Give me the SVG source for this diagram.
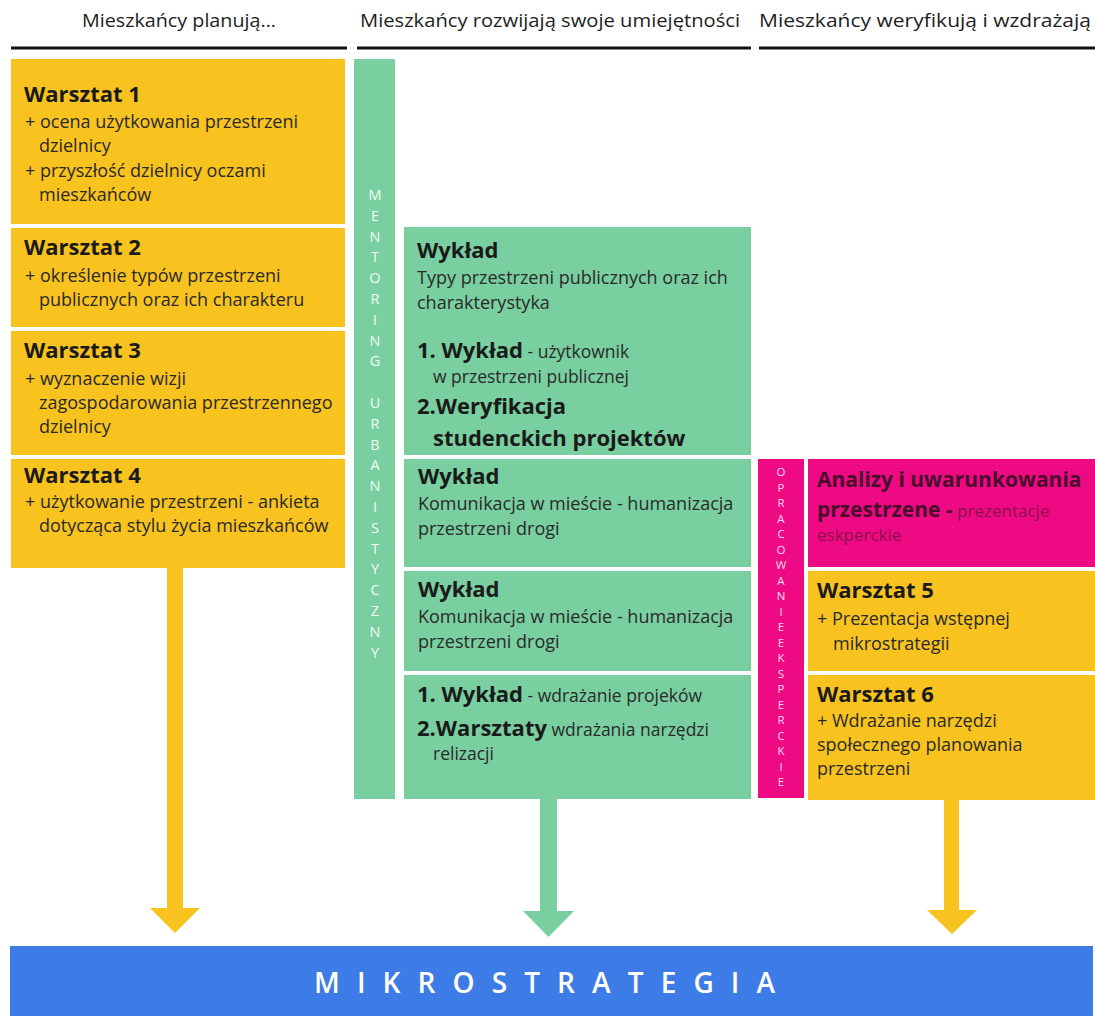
<svg xmlns="http://www.w3.org/2000/svg" width="1095" height="1016" viewBox="0 0 1095 1016">
<defs>
<style>
text{font-family:"Open Sans","Noto Sans","DejaVu Sans",sans-serif;}
.hd{font-size:18px;fill:#1e1e1e;}
.t{font-size:22px;font-weight:700;fill:#1a1a1a;}
.b{font-size:18px;fill:#2a2a2a;}
.s{font-size:17.5px;fill:#2a2a2a;font-weight:400;}
.y{fill:#F8C21F;}
.g{fill:#79CF9F;}
.p{fill:#EE0A82;}
.vm{font-size:14.5px;fill:#f1fbf5;text-anchor:middle;}
.vp{font-size:11.5px;fill:#ffdcee;text-anchor:middle;}
.hl{stroke:#111;stroke-width:3;}
</style>
</defs>
<rect width="1095" height="1016" fill="#fff"/>
<g id="headers">
<text class="hd" x="82" y="27" textLength="194" lengthAdjust="spacingAndGlyphs">Mieszkańcy planują...</text>
<text class="hd" x="360" y="27" textLength="380" lengthAdjust="spacingAndGlyphs">Mieszkańcy rozwijają swoje umiejętności</text>
<text class="hd" x="759" y="27" textLength="332" lengthAdjust="spacingAndGlyphs">Mieszkańcy weryfikują i wzdrażają</text>
<line class="hl" x1="11" y1="48" x2="347" y2="48"/>
<line class="hl" x1="357" y1="48" x2="751" y2="48"/>
<line class="hl" x1="759" y1="48" x2="1095" y2="48"/>
</g>
<g id="connectors">
<rect class="y" x="167" y="568" width="16" height="341"/>
<polygon class="y" points="150,908 200,908 175,933"/>
<rect class="g" x="540" y="799" width="17" height="113"/>
<polygon class="g" points="523,911 574,911 548.5,937"/>
<rect class="y" x="944" y="800" width="15" height="111"/>
<polygon class="y" points="927,910 977,910 952,934"/>
</g>
<g id="warsztat1">
<rect class="y" x="11" y="59" width="334" height="165"/>
<text class="t" x="24" y="102">Warsztat 1</text>
<text class="b" x="25" y="128">+ ocena użytkowania przestrzeni</text>
<text class="b" x="39" y="152">dzielnicy</text>
<text class="b" x="25" y="177">+ przyszłość dzielnicy oczami</text>
<text class="b" x="39" y="201">mieszkańców</text>
</g>
<g id="warsztat2">
<rect class="y" x="11" y="228" width="334" height="99"/>
<text class="t" x="24" y="255">Warsztat 2</text>
<text class="b" x="25" y="282">+ określenie typów przestrzeni</text>
<text class="b" x="39" y="306">publicznych oraz ich charakteru</text>
</g>
<g id="warsztat3">
<rect class="y" x="11" y="331" width="334" height="124"/>
<text class="t" x="24" y="358">Warsztat 3</text>
<text class="b" x="25" y="385">+ wyznaczenie wizji</text>
<text class="b" x="39" y="409">zagospodarowania przestrzennego</text>
<text class="b" x="39" y="433">dzielnicy</text>
</g>
<g id="warsztat4">
<rect class="y" x="11" y="459" width="334" height="109"/>
<text class="t" x="24" y="483">Warsztat 4</text>
<text class="b" x="25" y="508">+ użytkowanie przestrzeni - ankieta</text>
<text class="b" x="39" y="532">dotycząca stylu życia mieszkańców</text>
</g>
<g id="mentoring">
<rect class="g" x="354" y="59" width="41" height="740"/>
<text class="vm"><tspan x="375" y="200">M</tspan><tspan x="375" y="220.8">E</tspan><tspan x="375" y="241.6">N</tspan><tspan x="375" y="262.4">T</tspan><tspan x="375" y="283.2">O</tspan><tspan x="375" y="304">R</tspan><tspan x="375" y="324.8">I</tspan><tspan x="375" y="345.6">N</tspan><tspan x="375" y="366.4">G</tspan><tspan x="375" y="408">U</tspan><tspan x="375" y="428.8">R</tspan><tspan x="375" y="449.6">B</tspan><tspan x="375" y="470.4">A</tspan><tspan x="375" y="491.2">N</tspan><tspan x="375" y="512">I</tspan><tspan x="375" y="532.8">S</tspan><tspan x="375" y="553.6">T</tspan><tspan x="375" y="574.4">Y</tspan><tspan x="375" y="595.2">C</tspan><tspan x="375" y="616">Z</tspan><tspan x="375" y="636.8">N</tspan><tspan x="375" y="657.6">Y</tspan></text>
</g>
<g id="wyklad1">
<rect class="g" x="404" y="227" width="347" height="228"/>
<text class="t" x="417" y="258">Wykład</text>
<text class="b" x="417" y="284">Typy przestrzeni publicznych oraz ich</text>
<text class="b" x="417" y="309">charakterystyka</text>
<text class="t" x="417" y="358">1. Wykład<tspan class="s"> - użytkownik</tspan></text>
<text class="s" x="433" y="383">w przestrzeni publicznej</text>
<text class="t" x="417" y="414">2.Weryfikacja</text>
<text class="t" x="433" y="446">studenckich projektów</text>
</g>
<g id="wyklad2">
<rect class="g" x="404" y="459" width="347" height="108"/>
<text class="t" x="418" y="484">Wykład</text>
<text class="b" x="418" y="510">Komunikacja w mieście - humanizacja</text>
<text class="b" x="418" y="535">przestrzeni drogi</text>
</g>
<g id="wyklad3">
<rect class="g" x="404" y="571" width="347" height="100"/>
<text class="t" x="418" y="597">Wykład</text>
<text class="b" x="418" y="623">Komunikacja w mieście - humanizacja</text>
<text class="b" x="418" y="648">przestrzeni drogi</text>
</g>
<g id="wyklad4">
<rect class="g" x="404" y="675" width="347" height="124"/>
<text class="t" x="417" y="702">1. Wykład<tspan class="s"> - wdrażanie projeków</tspan></text>
<text class="t" x="417" y="736">2.Warsztaty<tspan class="s"> wdrażania narzędzi</tspan></text>
<text class="s" x="433" y="760">relizacji</text>
</g>
<g id="opracowanie">
<rect class="p" x="758" y="459" width="46" height="339"/>
<text class="vp"><tspan x="781" y="476">O</tspan><tspan x="781" y="491.5">P</tspan><tspan x="781" y="507">R</tspan><tspan x="781" y="522.5">A</tspan><tspan x="781" y="538">C</tspan><tspan x="781" y="553.5">O</tspan><tspan x="781" y="569">W</tspan><tspan x="781" y="584.5">A</tspan><tspan x="781" y="600">N</tspan><tspan x="781" y="615.5">I</tspan><tspan x="781" y="631">E</tspan><tspan x="781" y="646.5">E</tspan><tspan x="781" y="662">K</tspan><tspan x="781" y="677.5">S</tspan><tspan x="781" y="693">P</tspan><tspan x="781" y="708.5">E</tspan><tspan x="781" y="724">R</tspan><tspan x="781" y="739.5">C</tspan><tspan x="781" y="755">K</tspan><tspan x="781" y="770.5">I</tspan><tspan x="781" y="786">E</tspan></text>
</g>
<g id="analizy">
<rect class="p" x="808" y="459" width="287" height="108"/>
<text x="817" y="487" style="font-size:21px;font-weight:700;fill:#4a0c2c">Analizy i uwarunkowania</text>
<text x="817" y="517" style="font-size:21px;font-weight:700;fill:#4a0c2c">przestrzene -<tspan style="font-size:17px;font-weight:400;fill:#8e0f50"> prezentacje</tspan></text>
<text x="817" y="541" style="font-size:17px;fill:#8e0f50">eskperckie</text>
</g>
<g id="warsztat5">
<rect class="y" x="808" y="571" width="287" height="100"/>
<text class="t" x="817" y="598">Warsztat 5</text>
<text class="b" x="817" y="625">+ Prezentacja wstępnej</text>
<text class="b" x="833" y="650">mikrostrategii</text>
</g>
<g id="warsztat6">
<rect class="y" x="808" y="675" width="287" height="125"/>
<text class="t" x="817" y="702">Warsztat 6</text>
<text class="b" x="817" y="727">+ Wdrażanie narzędzi</text>
<text class="b" x="817" y="751">społecznego planowania</text>
<text class="b" x="817" y="775">przestrzeni</text>
</g>
<g id="mikrostrategia">
<rect x="10" y="946" width="1083" height="70" fill="#3D7BE6"/>
<text x="314" y="993" textLength="461" lengthAdjust="spacing" style="font-size:28px;font-weight:600;fill:#fff">MIKROSTRATEGIA</text>
</g>
</svg>
